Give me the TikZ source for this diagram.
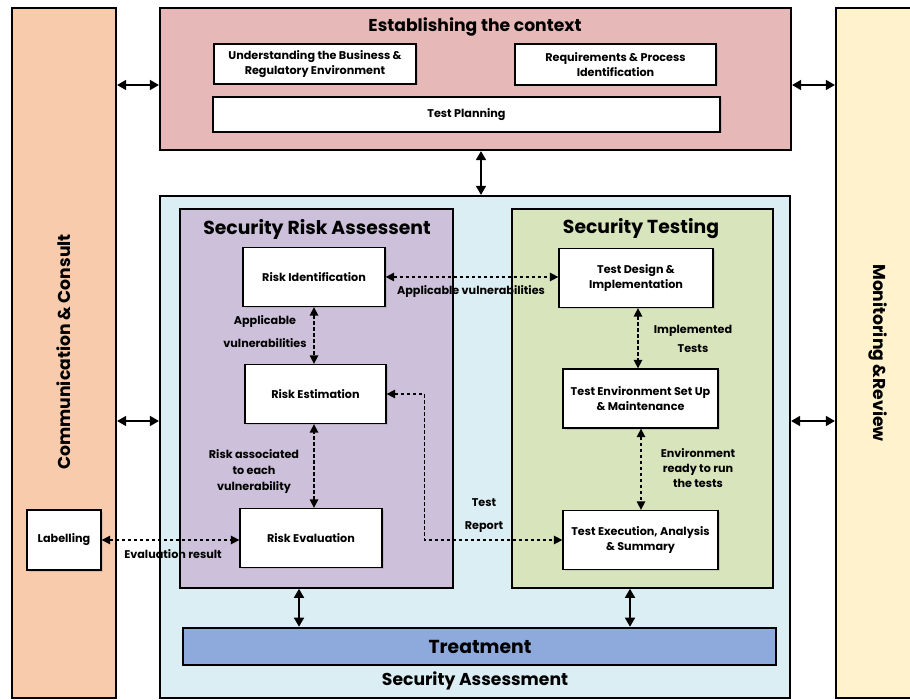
\documentclass[tikz,border=0pt]{standalone}
\usepackage{fontspec}
\setmainfont{Poppins}
\usetikzlibrary{arrows.meta,shadows}
\definecolor{commfill}{HTML}{F8CBAD}
\definecolor{monfill}{HTML}{FFF2CC}
\definecolor{ctxfill}{HTML}{E6B8B7}
\definecolor{safill}{HTML}{DAEEF3}
\definecolor{srafill}{HTML}{CCC0DA}
\definecolor{stfill}{HTML}{D8E4BC}
\definecolor{trtfill}{HTML}{8EA9DB}
\begin{document}
\begin{tikzpicture}[x=1pt,y=-1pt]
   \tikzset{
      area/.style={draw, line width=2.2pt, inner sep=0pt},
      stepbox/.style={draw, fill=white, line width=1.3pt, inner sep=0pt, align=center,
         font=\bfseries\fontsize{11.2}{15}\selectfont,
         drop shadow={shadow xshift=1.5pt, shadow yshift=-1.5pt, opacity=0.25}},
      lbl/.style={align=center, font=\bfseries\fontsize{11.2}{15}\selectfont},
      title/.style={font=\bfseries\fontsize{17.2}{19}\selectfont},
      bigtitle/.style={font=\bfseries\fontsize{18.8}{20}\selectfont},
      link/.style={line width=1.6pt, <->, >={Triangle[length=9pt,width=10pt]}},
      flow/.style={line width=1.5pt, dash pattern=on 3.5pt off 2.5pt, <->, >={Triangle[length=8.5pt,width=8.5pt]}}
   }
   \useasboundingbox (0,0) rectangle (910,700);
   \node[area, fill=commfill, minimum width=104, minimum height=690] (comm) at (64,353) {};
   \node[area, fill=monfill, minimum width=94, minimum height=690] (mon) at (883,353) {};
   \node[area, fill=ctxfill, minimum width=631, minimum height=142] (ctx) at (475.5,79) {};
   \node[area, fill=safill, minimum width=630, minimum height=502] (sa) at (475,447) {};
   \node[area, line width=1.6pt, fill=srafill, minimum width=273, minimum height=379] (sra) at (316.5,398.5) {};
   \node[area, line width=1.6pt, fill=stfill, minimum width=261, minimum height=379] (st) at (642.5,398.5) {};
   \node[area, line width=2.6pt, fill=trtfill, minimum width=593, minimum height=37] (trt) at (479.5,646.5) {};

   \node[title, rotate=90] (commtxt) at (64,352) {Communication \& Consult};
   \node[title, rotate=-90] (montxt) at (878,353) {Monitoring \&Review};
   \node[title] (ctxtxt) at (475,26.5) {Establishing the context};
   \node[bigtitle] (sratxt) at (317,229) {Security Risk Assessent};
   \node[bigtitle] (sttxt) at (641,229) {Security Testing};
   \node[bigtitle] (trttxt) at (480,647) {Treatment};
   \node[title] (satxt) at (475,681) {Security Assessment};

   \node[stepbox, minimum width=202, minimum height=40] (und) at (315,64) {Understanding the Business \&\\Regulatory Environment};
   \node[stepbox, minimum width=201, minimum height=41] (req) at (615.5,64.5) {Requirements \& Process\\Identification};
   \node[stepbox, minimum width=507, minimum height=35] (tp) at (466.5,114.5) {Test Planning};

   \node[stepbox, minimum width=142, minimum height=59] (rid) at (314,277) {Risk Identification};
   \node[stepbox, minimum width=141, minimum height=59] (rest) at (315.5,394) {Risk Estimation};
   \node[stepbox, minimum width=142, minimum height=59] (rev) at (311,538) {Risk Evaluation};
   \node[stepbox, minimum width=74, minimum height=60] (lab) at (64,540) {Labelling};
   \node[stepbox, minimum width=154, minimum height=59] (tdi) at (636,278) {Test Design \&\\Implementation};
   \node[stepbox, minimum width=155, minimum height=59] (tenv) at (640.5,398.5) {Test Environment Set Up\\\& Maintenance};
   \node[stepbox, minimum width=155, minimum height=59] (texe) at (640.5,540) {Test Execution, Analysis\\\& Summary};

   \draw[link] (comm.east |- 0,85) -- (ctx.west |- 0,85);
   \draw[link] (ctx.east |- 0,85) -- (mon.west |- 0,85);
   \draw[link] (comm.east |- 0,421) -- (sa.west |- 0,421);
   \draw[link] (sa.east |- 0,421) -- (mon.west |- 0,421);
   \draw[link] (ctx.south -| 481,0) -- (sa.north -| 481,0);
   \draw[link] (sra.south -| 299,0) -- (trt.north -| 299,0);
   \draw[link] (st.south -| 630,0) -- (trt.north -| 630,0);

   \draw[flow] (rid.east) -- (rid.east -| tdi.west);
   \draw[flow] (rid.south) -- (rid.south |- rest.north);
   \draw[flow] (rev.north -| 314,0) -- (rest.south -| 314,0);
   \draw[flow] (lab.east) -- (lab.east -| rev.west);
   \draw[flow] (rest.east) -- ++(38,0) |- (texe.west);
   \draw[flow] (tdi.south -| 638,0) -- (tenv.north -| 638,0);
   \draw[flow] (tenv.south -| 641,0) -- (texe.north -| 641,0);

   \node[lbl] (l1) at (471,292) {Applicable vulnerabilities};
   \node[lbl, font=\bfseries\fontsize{11.2}{23}\selectfont] (l2) at (265,331.5) {Applicable\\vulnerabilities};
   \node[lbl, font=\bfseries\fontsize{11.2}{16}\selectfont] (l3) at (254,471) {Risk associated\\to each\\vulnerability};
   \node[lbl] (l4) at (173,554) {Evaluation result};
   \node[lbl, font=\bfseries\fontsize{11.2}{23}\selectfont] (l5) at (484,516) {Test\\Report};
   \node[lbl, font=\bfseries\fontsize{11.2}{19}\selectfont] (l6) at (693,338.5) {Implemented\\Tests};
   \node[lbl] (l7) at (698,468) {Environment\\ready to run\\the tests};
\end{tikzpicture}
\end{document}
